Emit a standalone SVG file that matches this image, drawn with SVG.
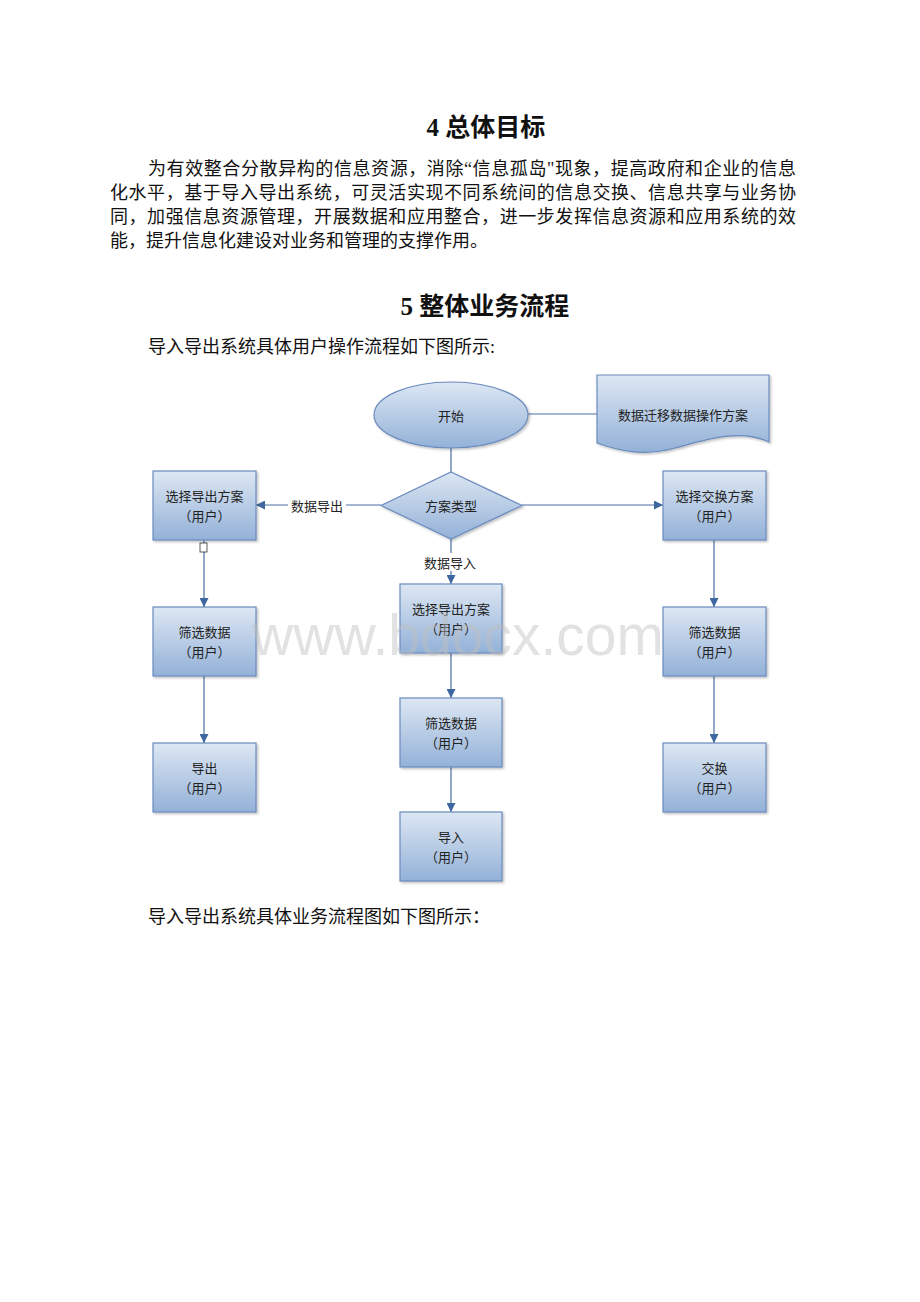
<svg xmlns="http://www.w3.org/2000/svg" width="920" height="1302" viewBox="0 0 920 1302">
<style>
.doc{font-family:"Liberation Serif","Noto Sans CJK SC",serif;fill:#111;dominant-baseline:central}
.h{font-size:25px;font-weight:bold;text-anchor:middle}
.p{font-size:18px}
.n{font-family:"Noto Sans CJK SC","Liberation Sans",sans-serif;font-size:13px;fill:#222;text-anchor:middle;dominant-baseline:central}
.box{fill:url(#g);stroke:#6a8bbd;stroke-width:1.2}
.ln{stroke:#4a6fa5;stroke-width:1.2;fill:none}
.lab{font-family:"Noto Sans CJK SC","Liberation Sans",sans-serif;font-size:13px;fill:#222;text-anchor:middle;dominant-baseline:central}
</style>
<defs>
<linearGradient id="g" x1="0" y1="0" x2="0" y2="1">
<stop offset="0" stop-color="#dde7f3"/>
<stop offset="1" stop-color="#93b1d8"/>
</linearGradient>
<marker id="a" viewBox="0 0 10 10" refX="10" refY="5" markerWidth="9" markerHeight="9" markerUnits="userSpaceOnUse" orient="auto">
<path d="M0,0 L10,5 L0,10 Z" fill="#3f679f"/>
</marker>
<filter id="s" x="-10%" y="-10%" width="130%" height="130%">
<feDropShadow dx="1.5" dy="1.5" stdDeviation="1" flood-color="#000" flood-opacity="0.25"/>
</filter>
</defs>
<rect width="920" height="1302" fill="#fff"/>
<g id="text">
<text class="doc h" x="486" y="127">4 总体目标</text>
<text class="doc p" x="148" y="169" textLength="648" lengthAdjust="spacing">为有效整合分散异构的信息资源，消除“信息孤岛"现象，提高政府和企业的信息</text>
<text class="doc p" x="110" y="193" textLength="686" lengthAdjust="spacing">化水平，基于导入导出系统，可灵活实现不同系统间的信息交换、信息共享与业务协</text>
<text class="doc p" x="110" y="217" textLength="686" lengthAdjust="spacing">同，加强信息资源管理，开展数据和应用整合，进一步发挥信息资源和应用系统的效</text>
<text class="doc p" x="110" y="241">能，提升信息化建设对业务和管理的支撑作用。</text>
<text class="doc h" x="485" y="306">5 整体业务流程</text>
<text class="doc p" x="148" y="347">导入导出系统具体用户操作流程如下图所示:</text>
<text class="doc p" x="148" y="917">导入导出系统具体业务流程图如下图所示：</text>
</g>
<g id="connectors">
<line class="ln" x1="528" y1="414" x2="597" y2="414"/>
<line class="ln" x1="451" y1="448" x2="451" y2="472"/>
<line class="ln" x1="381" y1="505" x2="256" y2="505" marker-end="url(#a)"/>
<rect x="288" y="496" width="58" height="18" fill="#fff"/>
<text class="lab" x="317" y="505">数据导出</text>
<line class="ln" x1="522" y1="505" x2="663" y2="505" marker-end="url(#a)"/>
<line class="ln" x1="451" y1="539" x2="451" y2="584" marker-end="url(#a)"/>
<rect x="421" y="553" width="60" height="18" fill="#fff"/>
<text class="lab" x="450" y="562">数据导入</text>
<line class="ln" x1="204" y1="540" x2="204" y2="607" marker-end="url(#a)"/>
<rect x="200" y="543" width="7" height="9" fill="#fff" stroke="#333" stroke-width="0.8"/>
<line class="ln" x1="204" y1="676" x2="204" y2="743" marker-end="url(#a)"/>
<line class="ln" x1="714" y1="539" x2="714" y2="607" marker-end="url(#a)"/>
<line class="ln" x1="714" y1="676" x2="714" y2="743" marker-end="url(#a)"/>
<line class="ln" x1="451" y1="653" x2="451" y2="698" marker-end="url(#a)"/>
<line class="ln" x1="451" y1="767" x2="451" y2="812" marker-end="url(#a)"/>
</g>
<g id="start">
<ellipse class="box" cx="451" cy="415" rx="77" ry="33" filter="url(#s)"/>
<text class="n" x="451" y="415">开始</text>
</g>
<g id="plan-doc">
<path class="box" filter="url(#s)" d="M597,375 H769 V442 C740,428 705,440 675,448 C645,456 622,452 597,443 Z"/>
<text class="n" x="683" y="414">数据迁移数据操作方案</text>
</g>
<g id="type">
<path class="box" filter="url(#s)" d="M451,472 L522,505.5 L451,539 L381,505.5 Z"/>
<text class="n" x="451" y="505">方案类型</text>
</g>
<g id="left1">
<rect class="box" filter="url(#s)" x="153" y="471" width="103" height="69"/>
<text class="n" x="204.5" y="495">选择导出方案</text>
<text class="n" x="204.5" y="515">（用户）</text>
</g>
<g id="left2">
<rect class="box" filter="url(#s)" x="153" y="607" width="103" height="69"/>
<text class="n" x="204.5" y="631">筛选数据</text>
<text class="n" x="204.5" y="651">（用户）</text>
</g>
<g id="left3">
<rect class="box" filter="url(#s)" x="153" y="743" width="103" height="69"/>
<text class="n" x="204.5" y="767">导出</text>
<text class="n" x="204.5" y="787">（用户）</text>
</g>
<g id="mid1">
<rect class="box" filter="url(#s)" x="400" y="584" width="102" height="69"/>
<text class="n" x="451" y="608">选择导出方案</text>
<text class="n" x="451" y="628">（用户）</text>
</g>
<g id="mid2">
<rect class="box" filter="url(#s)" x="400" y="698" width="102" height="69"/>
<text class="n" x="451" y="722">筛选数据</text>
<text class="n" x="451" y="742">（用户）</text>
</g>
<g id="mid3">
<rect class="box" filter="url(#s)" x="400" y="812" width="102" height="69"/>
<text class="n" x="451" y="836">导入</text>
<text class="n" x="451" y="856">（用户）</text>
</g>
<g id="right1">
<rect class="box" filter="url(#s)" x="663" y="471" width="103" height="69"/>
<text class="n" x="714.5" y="495">选择交换方案</text>
<text class="n" x="714.5" y="515">（用户）</text>
</g>
<g id="right2">
<rect class="box" filter="url(#s)" x="663" y="607" width="103" height="69"/>
<text class="n" x="714.5" y="631">筛选数据</text>
<text class="n" x="714.5" y="651">（用户）</text>
</g>
<g id="right3">
<rect class="box" filter="url(#s)" x="663" y="743" width="103" height="69"/>
<text class="n" x="714.5" y="767">交换</text>
<text class="n" x="714.5" y="787">（用户）</text>
</g>
<g id="watermark">
<text x="458" y="655" font-family="Liberation Sans, Arial, sans-serif" font-size="57" fill="#bfbfbf" fill-opacity="0.45" text-anchor="middle">www.bdocx.com</text>
</g>
</svg>
